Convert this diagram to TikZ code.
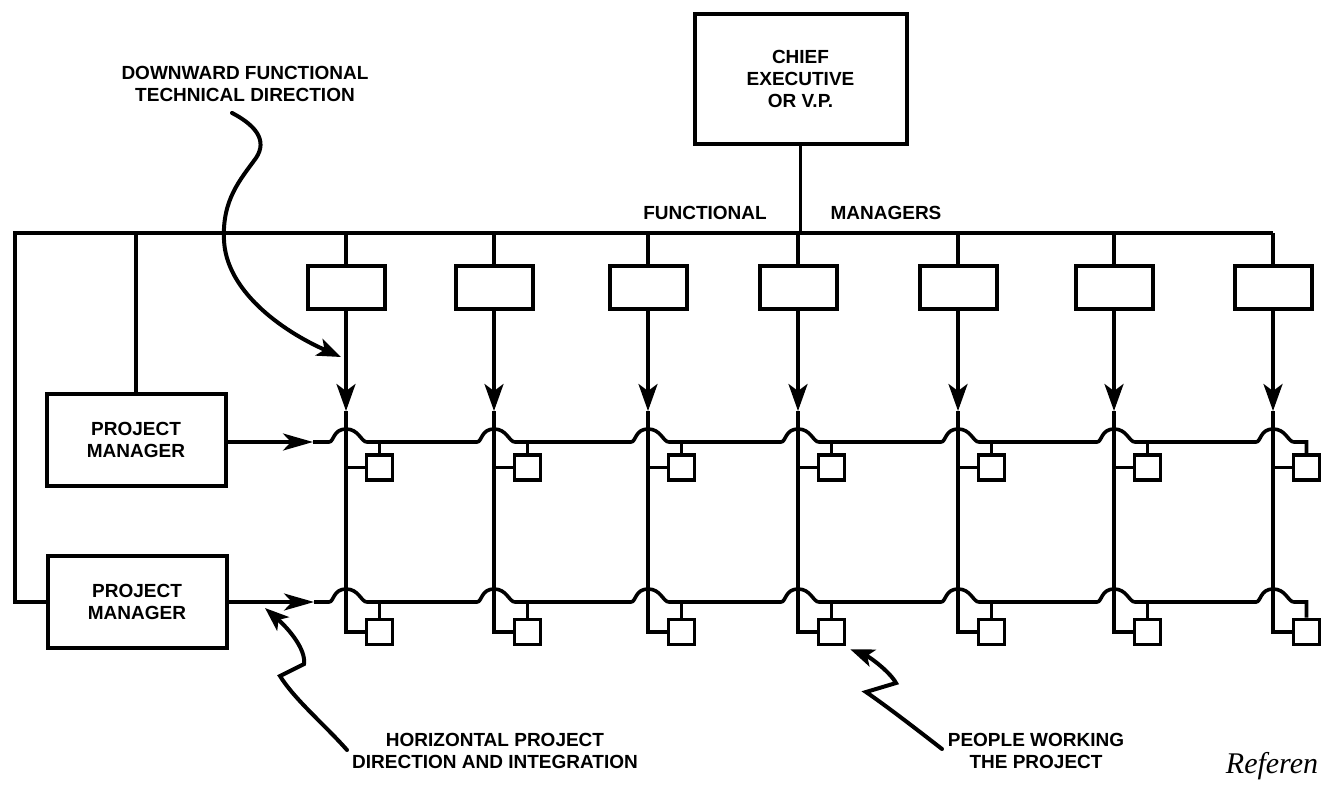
\documentclass[tikz,border=0pt]{standalone}
\usepackage{fontspec}
\setmainfont{Liberation Sans}
\newfontfamily\handfont{Liberation Serif}
\usepackage{tikz}
\usetikzlibrary{arrows.meta,positioning,calc}
\newcommand\RowA{442}
\newcommand\RowB{602}
\newcommand\FunY{287.5}
\newcommand\LblFont{\fontsize{19}{22}\selectfont\bfseries}
\tikzset{
  wire/.style={
    line width=3.6pt
  },
  chiefbox/.style={
    shape=rectangle,
    draw,
    line width=4pt,
    minimum width=212pt,
    minimum height=130pt,
    align=center,
    font=\LblFont
  },
  pmbox/.style={
    shape=rectangle,
    draw,
    line width=4pt,
    minimum width=179pt,
    minimum height=92pt,
    align=center,
    font=\LblFont
  },
  fbox/.style={
    shape=rectangle,
    draw,
    line width=4pt,
    minimum width=77pt,
    minimum height=43pt,
    inner sep=0pt
  },
  person/.style={
    shape=rectangle,
    draw,
    line width=3.6pt,
    minimum width=26pt,
    minimum height=25pt,
    inner sep=0pt
  },
  lbl/.style={
    align=center,
    inner sep=0pt,
    font=\LblFont
  },
  colarrow/.style={
    line width=3.6pt,
    -{Stealth[length=27pt,width=19pt,inset=7pt]}
  },
  rowarrow/.style={
    line width=3.6pt,
    -{Stealth[length=30pt,width=17pt,inset=8pt]}
  },
  pointer/.style={
    line width=4pt,
    line cap=round,
    -{Stealth[length=24pt,width=18pt,inset=6pt]}
  }
}

\begin{document}
\begin{tikzpicture}[x=1pt,y=-1pt]
    \useasboundingbox (0,0) rectangle (1332,801);

    % top of the organisation
    \node[chiefbox] (chief) at (800.5,78.5) {CHIEF\\EXECUTIVE\\OR V.P.};
    \node[pmbox] (pm1) at (136,440) {PROJECT\\MANAGER};
    \node[pmbox] (pm2) at (137,\RowB) {PROJECT\\MANAGER};
    \node[lbl] (func) at (705,213) {FUNCTIONAL};
    \node[lbl] (mgrs) at (886,213) {MANAGERS};

    \coordinate (busL) at (15,233);
    \coordinate (busR) at (1273,233);
    \draw[wire] (pm2.west) -| (busL) -- (busR);
    \draw[wire] (chief.south) -- (chief.south |- busL);
    \draw[wire] (pm1.north) -- (pm1.north |- busL);

    % functional columns
    \foreach \i/\x in {1/346,2/494,3/648,4/798,5/958,6/1114,7/1273}{
        \node[fbox] (f\i) at (\x,\FunY) {};
        \node[person] (pa\i) at ({\x+33.5},467.5) {};
        \node[person] (pb\i) at ({\x+33.5},{\RowB+30}) {};
        \coordinate (t\i) at (\x,411);
        \draw[wire] (f\i.north) -- (f\i.north |- busL);
        \draw[colarrow] (f\i.south) -- (t\i);
        \draw[wire] (t\i) -- (t\i |- pb\i.west) -- (pb\i.west);
        \draw[wire] (t\i |- pa\i.west) -- (pa\i.west);
    }

    % project rows
    \coordinate (ra1) at (313,\RowA);
    \coordinate (ra2) at (314,\RowB);
    \draw[rowarrow] (pm1.east |- ra1) -- (ra1);
    \draw[rowarrow] (pm2.east) -- (ra2);
    \draw[wire] (ra1) foreach \x in {346,494,648,798,958,1114,1273}{
        -- ({\x-17},\RowA) .. controls ({\x-12},\RowA) and ({\x-13},{\RowA-13}) .. (\x,{\RowA-13})
        .. controls ({\x+13},{\RowA-13}) and ({\x+15},\RowA) .. ({\x+21},\RowA)
    } -- (pa7.north |- ra1) -- (pa7.north);
    \draw[wire] (ra2) foreach \x in {346,494,648,798,958,1114,1273}{
        -- ({\x-17},\RowB) .. controls ({\x-12},\RowB) and ({\x-13},{\RowB-13}) .. (\x,{\RowB-13})
        .. controls ({\x+13},{\RowB-13}) and ({\x+15},\RowB) .. ({\x+21},\RowB)
    } -- (pb7.north |- ra2) -- (pb7.north);
    \foreach \i in {1,...,6}{
        \draw[wire] (pa\i.north) -- (pa\i.north |- ra1);
        \draw[wire] (pb\i.north) -- (pb\i.north |- ra2);
    }

    % callouts
    \node[lbl] (ldown) at (245,84) {DOWNWARD FUNCTIONAL\\TECHNICAL DIRECTION};
    \node[lbl] (lhor) at (495,751) {HORIZONTAL PROJECT\\DIRECTION AND INTEGRATION};
    \node[lbl] (lpeople) at (1036,751) {PEOPLE WORKING\\THE PROJECT};
    \coordinate (dtip) at (341,357);
    \coordinate (hstart) at (347,750);
    \coordinate (htip) at (265,608);
    \coordinate (pstart) at (942,749);
    \coordinate (ptip) at ([shift={(4,3)}]pb4.south east);

    \draw[pointer] ([shift={(-13,11)}]ldown.south) .. controls (255,125) and (268,140) .. (256,158)
        .. controls (240,180) and (222,200) .. (224,240)
        .. controls (226,290) and (280,330) .. (dtip);
    \draw[pointer] (hstart) .. controls (325,725) and (295,700) .. (280,676) -- (304,664)
        .. controls (306,650) and (290,630) .. (htip);
    \draw[pointer] (pstart) .. controls (915,728) and (885,705) .. (866,692) -- (896,683)
        .. controls (890,672) and (870,657) .. (ptip);

    \node[font=\handfont\itshape\fontsize{30}{30}\selectfont] (note) at (1272,766) {Referen};
\end{tikzpicture}
\end{document}
